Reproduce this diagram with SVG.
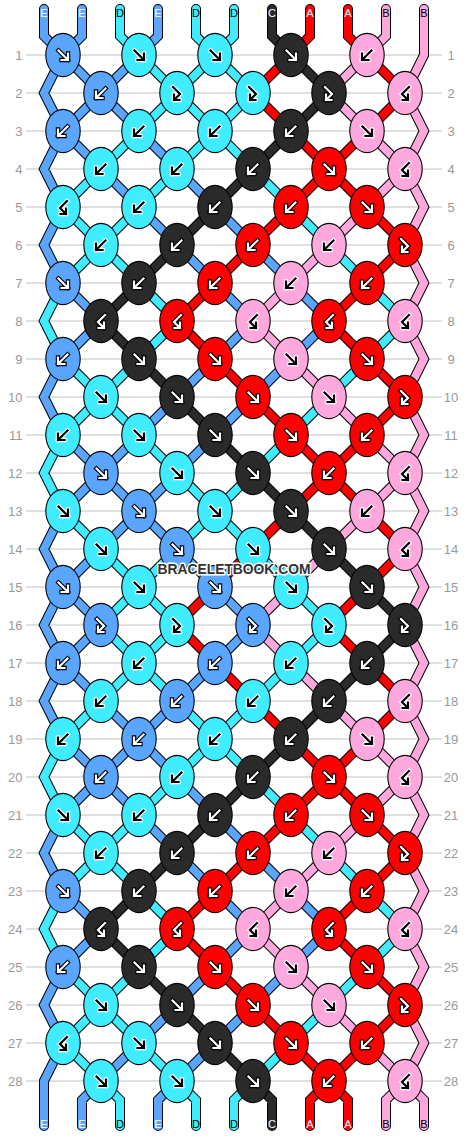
<svg xmlns="http://www.w3.org/2000/svg" width="468" height="1136" viewBox="0 0 468 1136">
<style>
.rl{font-family:"Liberation Sans",Arial,sans-serif;font-size:13px;fill:#999}
.sl{font-family:"Liberation Sans",Arial,sans-serif;font-size:11px;text-anchor:middle}
.w{fill:#fff}.k{fill:#000}
</style>
<defs>
<ellipse id="kE" rx="17.2" ry="21.6" fill="#5aa6ff" stroke="#000" stroke-width="1.1"/>
<ellipse id="kD" rx="17.2" ry="21.6" fill="#40ecff" stroke="#000" stroke-width="1.1"/>
<ellipse id="kC" rx="17.2" ry="21.6" fill="#2a2a2a" stroke="#000" stroke-width="1.1"/>
<ellipse id="kA" rx="17.2" ry="21.6" fill="#ff0000" stroke="#000" stroke-width="1.1"/>
<ellipse id="kB" rx="17.2" ry="21.6" fill="#ffa8de" stroke="#000" stroke-width="1.1"/>
<path id="aF" fill="none" d="M-4.5 -4.5L5 5M5 -1.5V5H-1.5"/>
<path id="aB" fill="none" d="M4.5 -4.5L-5 5M-5 -1.5V5H1.5"/>
<path id="aFB" fill="none" d="M-4 -6L3 1L-3 7M-3 1.5V7H2.5"/>
<path id="aBF" fill="none" d="M4 -6L-3 1L3 7M3 1.5V7H-2.5"/>
<g id="Fd" stroke-linecap="square"><use href="#aF" stroke="#000" stroke-width="4.4"/><use href="#aF" stroke="#fff" stroke-width="2.2"/></g>
<g id="Fl" stroke-linecap="square"><use href="#aF" stroke="#fff" stroke-width="4.4"/><use href="#aF" stroke="#000" stroke-width="2.2"/></g>
<g id="Bd" stroke-linecap="square"><use href="#aB" stroke="#000" stroke-width="4.4"/><use href="#aB" stroke="#fff" stroke-width="2.2"/></g>
<g id="Bl" stroke-linecap="square"><use href="#aB" stroke="#fff" stroke-width="4.4"/><use href="#aB" stroke="#000" stroke-width="2.2"/></g>
<g id="FBd" stroke-linecap="square"><use href="#aFB" stroke="#000" stroke-width="4.4"/><use href="#aFB" stroke="#fff" stroke-width="2.2"/></g>
<g id="FBl" stroke-linecap="square"><use href="#aFB" stroke="#fff" stroke-width="4.4"/><use href="#aFB" stroke="#000" stroke-width="2.2"/></g>
<g id="BFd" stroke-linecap="square"><use href="#aBF" stroke="#000" stroke-width="4.4"/><use href="#aBF" stroke="#fff" stroke-width="2.2"/></g>
<g id="BFl" stroke-linecap="square"><use href="#aBF" stroke="#fff" stroke-width="4.4"/><use href="#aBF" stroke="#000" stroke-width="2.2"/></g>
<path id="sE" d="M44 9V36l19 19M82 9V36l-19 19M158 9V36l-19 19
M63 55L44 93L63 131M63 131L44 169L63 207M63 207L44 245L63 283M63 359L44 397L63 435M63 511L44 549L63 587M63 587L44 625L63 663M63 663L44 701L63 739M63 815L44 853L63 891M63 967L44 1005L63 1043M63 1043L44 1081V1126
M63 55l38 38M139 55l-38 38
M101 93l-38 38M101 93l38 38
M63 131l38 38M139 131l38 38
M101 169l38 38M177 169l38 38
M139 207l38 38M215 207l38 38
M177 245l38 38M253 245l38 38
M63 283l38 38M215 283l38 38M291 283l38 38
M101 321l-38 38M253 321l-38 38M329 321l-38 38
M215 359l-38 38M291 359l-38 38
M177 397l-38 38M253 397l-38 38
M63 435l38 38M139 435l-38 38M215 435l-38 38
M101 473l-38 38M101 473l38 38M177 473l-38 38
M139 511l-38 38M139 511l38 38
M101 549l-38 38M177 549l38 38
M63 587l38 38M215 587l38 38
M101 625l-38 38M253 625l-38 38
M63 663l38 38M215 663l-38 38
M101 701l38 38M177 701l-38 38
M63 739l38 38M139 739l-38 38M139 739l38 38
M101 777l-38 38M101 777l38 38M177 777l38 38
M139 815l38 38M215 815l38 38
M177 853l38 38M253 853l38 38
M63 891l38 38M215 891l38 38M291 891l38 38
M101 929l-38 38M253 929l-38 38M329 929l-38 38
M215 967l-38 38M291 967l-38 38
M177 1005l-38 38M253 1005l-38 38
M139 1043l-38 38M215 1043l-38 38
M101 1081l-19 19V1126M177 1081l-19 19V1126"/>
<path id="sD" d="M120 9V36l19 19M196 9V36l19 19M234 9V36l-19 19
M63 283L44 321L63 359M63 435L44 473L63 511M63 739L44 777L63 815M63 891L44 929L63 967
M139 55l38 38M215 55l-38 38M215 55l38 38
M177 93l-38 38M177 93l38 38M253 93l-38 38
M139 131l-38 38M215 131l-38 38M215 131l38 38
M101 169l-38 38M177 169l-38 38M253 169l38 38
M63 207l38 38M139 207l-38 38M291 207l38 38
M101 245l-38 38M101 245l38 38M329 245l38 38
M139 283l38 38M367 283l38 38
M177 321l-38 38M405 321l-38 38
M63 359l38 38M139 359l-38 38M367 359l-38 38
M101 397l-38 38M101 397l38 38M329 397l-38 38
M139 435l38 38M291 435l-38 38
M177 473l38 38M253 473l-38 38
M63 511l38 38M215 511l-38 38M215 511l38 38
M101 549l38 38M177 549l-38 38M253 549l38 38
M139 587l-38 38M139 587l38 38M291 587l38 38
M101 625l38 38M177 625l-38 38M329 625l-38 38
M139 663l-38 38M139 663l38 38M291 663l-38 38
M101 701l-38 38M177 701l38 38M253 701l-38 38
M215 739l-38 38M215 739l38 38
M177 777l-38 38M253 777l38 38
M63 815l38 38M139 815l-38 38M291 815l38 38
M101 853l-38 38M101 853l38 38M329 853l38 38
M139 891l38 38M367 891l38 38
M177 929l-38 38M405 929l-38 38
M63 967l38 38M139 967l-38 38M367 967l-38 38
M101 1005l-38 38M101 1005l38 38M329 1005l-38 38
M63 1043l38 38M139 1043l38 38M291 1043l-38 38
M101 1081l19 19V1126M177 1081l19 19V1126M253 1081l-19 19V1126"/>
<path id="sC" d="M272 9V36l19 19
M291 55l38 38M329 93l-38 38M291 131l-38 38M253 169l-38 38M215 207l-38 38M177 245l-38 38M139 283l-38 38
M101 321l38 38M139 359l38 38M177 397l38 38M215 435l38 38M253 473l38 38M291 511l38 38M329 549l38 38M367 587l38 38
M405 625l-38 38M367 663l-38 38M329 701l-38 38M291 739l-38 38M253 777l-38 38M215 815l-38 38M177 853l-38 38M139 891l-38 38
M101 929l38 38M139 967l38 38M177 1005l38 38M215 1043l38 38
M253 1081l19 19V1126"/>
<path id="sA" d="M310 9V36l-19 19M348 9V36l19 19
M291 55l-38 38M367 55l38 38
M253 93l38 38M405 93l-38 38
M291 131l38 38M367 131l-38 38
M329 169l-38 38M329 169l38 38
M291 207l-38 38M367 207l38 38
M253 245l-38 38M405 245l-38 38
M215 283l-38 38M367 283l-38 38
M177 321l38 38M329 321l38 38
M215 359l38 38M367 359l38 38
M253 397l38 38M405 397l-38 38
M291 435l38 38M367 435l-38 38
M329 473l-38 38M329 473l38 38
M291 511l-38 38M367 511l38 38
M253 549l-38 38M405 549l-38 38
M215 587l-38 38M367 587l-38 38
M177 625l38 38M329 625l38 38
M215 663l38 38M367 663l38 38
M253 701l38 38M405 701l-38 38
M291 739l38 38M367 739l-38 38
M329 777l-38 38M329 777l38 38
M291 815l-38 38M367 815l38 38
M253 853l-38 38M405 853l-38 38
M215 891l-38 38M367 891l-38 38
M177 929l38 38M329 929l38 38
M215 967l38 38M367 967l38 38
M253 1005l38 38M405 1005l-38 38
M291 1043l38 38M367 1043l-38 38
M329 1081l-19 19V1126M329 1081l19 19V1126"/>
<path id="sB" d="M386 9V36l-19 19
M424 9V55L405 93L424 131L405 169L424 207L405 245L424 283L405 321L424 359L405 397L424 435L405 473L424 511L405 549L424 587L405 625L424 663L405 701L424 739L405 777L424 815L405 853L424 891L405 929L424 967L405 1005L424 1043L405 1081L424 1100V1126
M367 55l-38 38M329 93l38 38M367 131l38 38M405 169l-38 38M367 207l-38 38M329 245l-38 38M291 283l-38 38
M253 321l38 38M291 359l38 38M329 397l38 38M367 435l38 38M405 473l-38 38M367 511l-38 38M329 549l-38 38M291 587l-38 38
M253 625l38 38M291 663l38 38M329 701l38 38M367 739l38 38M405 777l-38 38M367 815l-38 38M329 853l-38 38M291 891l-38 38
M253 929l38 38M291 967l38 38M329 1005l38 38M367 1043l38 38
M405 1081l-19 19V1126"/>
</defs>
<rect width="468" height="1136" fill="#fff"/>
<g id="rows">
<path stroke="#c0c0c0" stroke-width="1" fill="none" d="M26 55H442M26 93H442M26 131H442M26 169H442M26 207H442M26 245H442M26 283H442M26 321H442M26 359H442M26 397H442M26 435H442M26 473H442M26 511H442M26 549H442M26 587H442M26 625H442M26 663H442M26 701H442M26 739H442M26 777H442M26 815H442M26 853H442M26 891H442M26 929H442M26 967H442M26 1005H442M26 1043H442M26 1081H442"/>
<g class="rl" text-anchor="end">
<text x="22.4" y="59.5">1</text><text x="22.4" y="97.5">2</text><text x="22.4" y="135.5">3</text><text x="22.4" y="173.5">4</text><text x="22.4" y="211.5">5</text><text x="22.4" y="249.5">6</text><text x="22.4" y="287.5">7</text><text x="22.4" y="325.5">8</text><text x="22.4" y="363.5">9</text><text x="22.4" y="401.5">10</text><text x="22.4" y="439.5">11</text><text x="22.4" y="477.5">12</text><text x="22.4" y="515.5">13</text><text x="22.4" y="553.5">14</text><text x="22.4" y="591.5">15</text><text x="22.4" y="629.5">16</text><text x="22.4" y="667.5">17</text><text x="22.4" y="705.5">18</text><text x="22.4" y="743.5">19</text><text x="22.4" y="781.5">20</text><text x="22.4" y="819.5">21</text><text x="22.4" y="857.5">22</text><text x="22.4" y="895.5">23</text><text x="22.4" y="933.5">24</text><text x="22.4" y="971.5">25</text><text x="22.4" y="1009.5">26</text><text x="22.4" y="1047.5">27</text><text x="22.4" y="1085.5">28</text>
</g>
<g class="rl" text-anchor="middle">
<text x="451" y="59.5">1</text><text x="451" y="97.5">2</text><text x="451" y="135.5">3</text><text x="451" y="173.5">4</text><text x="451" y="211.5">5</text><text x="451" y="249.5">6</text><text x="451" y="287.5">7</text><text x="451" y="325.5">8</text><text x="451" y="363.5">9</text><text x="451" y="401.5">10</text><text x="451" y="439.5">11</text><text x="451" y="477.5">12</text><text x="451" y="515.5">13</text><text x="451" y="553.5">14</text><text x="451" y="591.5">15</text><text x="451" y="629.5">16</text><text x="451" y="667.5">17</text><text x="451" y="705.5">18</text><text x="451" y="743.5">19</text><text x="451" y="781.5">20</text><text x="451" y="819.5">21</text><text x="451" y="857.5">22</text><text x="451" y="895.5">23</text><text x="451" y="933.5">24</text><text x="451" y="971.5">25</text><text x="451" y="1009.5">26</text><text x="451" y="1047.5">27</text><text x="451" y="1085.5">28</text>
</g>
</g>
<g id="connectors" fill="none" stroke-linejoin="miter" stroke-linecap="round">
<g stroke="#000" stroke-width="10"><use href="#sE"/><use href="#sD"/><use href="#sC"/><use href="#sA"/><use href="#sB"/></g>
<use href="#sE" stroke="#5aa6ff" stroke-width="8"/>
<use href="#sD" stroke="#40ecff" stroke-width="8"/>
<use href="#sC" stroke="#2a2a2a" stroke-width="8"/>
<use href="#sA" stroke="#ff0000" stroke-width="8"/>
<use href="#sB" stroke="#ffa8de" stroke-width="8"/>
</g>
<g id="string-labels" class="sl">
<text x="44" y="16.7" class="w">E</text><text x="82" y="16.7" class="w">E</text><text x="120" y="16.7" class="k">D</text><text x="158" y="16.7" class="w">E</text><text x="196" y="16.7" class="k">D</text><text x="234" y="16.7" class="k">D</text><text x="272" y="16.7" class="w">C</text><text x="310" y="16.7" class="w">A</text><text x="348" y="16.7" class="w">A</text><text x="386" y="16.7" class="k">B</text><text x="424" y="16.7" class="k">B</text>
<text x="44" y="1128" class="w">E</text><text x="82" y="1128" class="w">E</text><text x="120" y="1128" class="k">D</text><text x="158" y="1128" class="w">E</text><text x="196" y="1128" class="k">D</text><text x="234" y="1128" class="k">D</text><text x="272" y="1128" class="w">C</text><text x="310" y="1128" class="w">A</text><text x="348" y="1128" class="w">A</text><text x="386" y="1128" class="k">B</text><text x="424" y="1128" class="k">B</text>
</g>
<g id="knots">
<g id="k1-1" transform="translate(63 55)"><use href="#kE"/><use href="#Fd"/></g>
<g id="k1-2" transform="translate(139 55)"><use href="#kD"/><use href="#Fl"/></g>
<g id="k1-3" transform="translate(215 55)"><use href="#kD"/><use href="#Fl"/></g>
<g id="k1-4" transform="translate(291 55)"><use href="#kC"/><use href="#Fd"/></g>
<g id="k1-5" transform="translate(367 55)"><use href="#kB"/><use href="#Bl"/></g>
<g id="k2-1" transform="translate(101 93)"><use href="#kE"/><use href="#Bd"/></g>
<g id="k2-2" transform="translate(177 93)"><use href="#kD"/><use href="#FBl"/></g>
<g id="k2-3" transform="translate(253 93)"><use href="#kD"/><use href="#FBl"/></g>
<g id="k2-4" transform="translate(329 93)"><use href="#kC"/><use href="#FBd"/></g>
<g id="k2-5" transform="translate(405 93)"><use href="#kB"/><use href="#BFl"/></g>
<g id="k3-1" transform="translate(63 131)"><use href="#kE"/><use href="#Bd"/></g>
<g id="k3-2" transform="translate(139 131)"><use href="#kD"/><use href="#Bl"/></g>
<g id="k3-3" transform="translate(215 131)"><use href="#kD"/><use href="#Bl"/></g>
<g id="k3-4" transform="translate(291 131)"><use href="#kC"/><use href="#Bd"/></g>
<g id="k3-5" transform="translate(367 131)"><use href="#kB"/><use href="#Fl"/></g>
<g id="k4-1" transform="translate(101 169)"><use href="#kD"/><use href="#Bl"/></g>
<g id="k4-2" transform="translate(177 169)"><use href="#kD"/><use href="#Bl"/></g>
<g id="k4-3" transform="translate(253 169)"><use href="#kC"/><use href="#Bd"/></g>
<g id="k4-4" transform="translate(329 169)"><use href="#kA"/><use href="#Fd"/></g>
<g id="k4-5" transform="translate(405 169)"><use href="#kB"/><use href="#BFl"/></g>
<g id="k5-1" transform="translate(63 207)"><use href="#kD"/><use href="#BFl"/></g>
<g id="k5-2" transform="translate(139 207)"><use href="#kD"/><use href="#Bl"/></g>
<g id="k5-3" transform="translate(215 207)"><use href="#kC"/><use href="#Bd"/></g>
<g id="k5-4" transform="translate(291 207)"><use href="#kA"/><use href="#Bd"/></g>
<g id="k5-5" transform="translate(367 207)"><use href="#kA"/><use href="#Fd"/></g>
<g id="k6-1" transform="translate(101 245)"><use href="#kD"/><use href="#Bl"/></g>
<g id="k6-2" transform="translate(177 245)"><use href="#kC"/><use href="#Bd"/></g>
<g id="k6-3" transform="translate(253 245)"><use href="#kA"/><use href="#Bd"/></g>
<g id="k6-4" transform="translate(329 245)"><use href="#kB"/><use href="#Bl"/></g>
<g id="k6-5" transform="translate(405 245)"><use href="#kA"/><use href="#FBd"/></g>
<g id="k7-1" transform="translate(63 283)"><use href="#kE"/><use href="#Fd"/></g>
<g id="k7-2" transform="translate(139 283)"><use href="#kC"/><use href="#Bd"/></g>
<g id="k7-3" transform="translate(215 283)"><use href="#kA"/><use href="#Bd"/></g>
<g id="k7-4" transform="translate(291 283)"><use href="#kB"/><use href="#Bl"/></g>
<g id="k7-5" transform="translate(367 283)"><use href="#kA"/><use href="#Bd"/></g>
<g id="k8-1" transform="translate(101 321)"><use href="#kC"/><use href="#BFd"/></g>
<g id="k8-2" transform="translate(177 321)"><use href="#kA"/><use href="#BFd"/></g>
<g id="k8-3" transform="translate(253 321)"><use href="#kB"/><use href="#BFl"/></g>
<g id="k8-4" transform="translate(329 321)"><use href="#kA"/><use href="#BFd"/></g>
<g id="k8-5" transform="translate(405 321)"><use href="#kB"/><use href="#BFl"/></g>
<g id="k9-1" transform="translate(63 359)"><use href="#kE"/><use href="#Bd"/></g>
<g id="k9-2" transform="translate(139 359)"><use href="#kC"/><use href="#Fd"/></g>
<g id="k9-3" transform="translate(215 359)"><use href="#kA"/><use href="#Fd"/></g>
<g id="k9-4" transform="translate(291 359)"><use href="#kB"/><use href="#Fl"/></g>
<g id="k9-5" transform="translate(367 359)"><use href="#kA"/><use href="#Fd"/></g>
<g id="k10-1" transform="translate(101 397)"><use href="#kD"/><use href="#Fl"/></g>
<g id="k10-2" transform="translate(177 397)"><use href="#kC"/><use href="#Fd"/></g>
<g id="k10-3" transform="translate(253 397)"><use href="#kA"/><use href="#Fd"/></g>
<g id="k10-4" transform="translate(329 397)"><use href="#kB"/><use href="#Fl"/></g>
<g id="k10-5" transform="translate(405 397)"><use href="#kA"/><use href="#FBd"/></g>
<g id="k11-1" transform="translate(63 435)"><use href="#kD"/><use href="#Bl"/></g>
<g id="k11-2" transform="translate(139 435)"><use href="#kD"/><use href="#Fl"/></g>
<g id="k11-3" transform="translate(215 435)"><use href="#kC"/><use href="#Fd"/></g>
<g id="k11-4" transform="translate(291 435)"><use href="#kA"/><use href="#Fd"/></g>
<g id="k11-5" transform="translate(367 435)"><use href="#kA"/><use href="#Bd"/></g>
<g id="k12-1" transform="translate(101 473)"><use href="#kE"/><use href="#Fd"/></g>
<g id="k12-2" transform="translate(177 473)"><use href="#kD"/><use href="#Fl"/></g>
<g id="k12-3" transform="translate(253 473)"><use href="#kC"/><use href="#Fd"/></g>
<g id="k12-4" transform="translate(329 473)"><use href="#kA"/><use href="#Bd"/></g>
<g id="k12-5" transform="translate(405 473)"><use href="#kB"/><use href="#BFl"/></g>
<g id="k13-1" transform="translate(63 511)"><use href="#kD"/><use href="#Fl"/></g>
<g id="k13-2" transform="translate(139 511)"><use href="#kE"/><use href="#Fd"/></g>
<g id="k13-3" transform="translate(215 511)"><use href="#kD"/><use href="#Fl"/></g>
<g id="k13-4" transform="translate(291 511)"><use href="#kC"/><use href="#Fd"/></g>
<g id="k13-5" transform="translate(367 511)"><use href="#kB"/><use href="#Bl"/></g>
<g id="k14-1" transform="translate(101 549)"><use href="#kD"/><use href="#Fl"/></g>
<g id="k14-2" transform="translate(177 549)"><use href="#kE"/><use href="#Fd"/></g>
<g id="k14-3" transform="translate(253 549)"><use href="#kD"/><use href="#Fl"/></g>
<g id="k14-4" transform="translate(329 549)"><use href="#kC"/><use href="#Fd"/></g>
<g id="k14-5" transform="translate(405 549)"><use href="#kB"/><use href="#BFl"/></g>
<g id="k15-1" transform="translate(63 587)"><use href="#kE"/><use href="#Fd"/></g>
<g id="k15-2" transform="translate(139 587)"><use href="#kD"/><use href="#Fl"/></g>
<g id="k15-3" transform="translate(215 587)"><use href="#kE"/><use href="#Fd"/></g>
<g id="k15-4" transform="translate(291 587)"><use href="#kD"/><use href="#Fl"/></g>
<g id="k15-5" transform="translate(367 587)"><use href="#kC"/><use href="#Fd"/></g>
<g id="k16-1" transform="translate(101 625)"><use href="#kE"/><use href="#FBd"/></g>
<g id="k16-2" transform="translate(177 625)"><use href="#kD"/><use href="#FBl"/></g>
<g id="k16-3" transform="translate(253 625)"><use href="#kE"/><use href="#FBd"/></g>
<g id="k16-4" transform="translate(329 625)"><use href="#kD"/><use href="#FBl"/></g>
<g id="k16-5" transform="translate(405 625)"><use href="#kC"/><use href="#FBd"/></g>
<g id="k17-1" transform="translate(63 663)"><use href="#kE"/><use href="#Bd"/></g>
<g id="k17-2" transform="translate(139 663)"><use href="#kD"/><use href="#Bl"/></g>
<g id="k17-3" transform="translate(215 663)"><use href="#kE"/><use href="#Bd"/></g>
<g id="k17-4" transform="translate(291 663)"><use href="#kD"/><use href="#Bl"/></g>
<g id="k17-5" transform="translate(367 663)"><use href="#kC"/><use href="#Bd"/></g>
<g id="k18-1" transform="translate(101 701)"><use href="#kD"/><use href="#Bl"/></g>
<g id="k18-2" transform="translate(177 701)"><use href="#kE"/><use href="#Bd"/></g>
<g id="k18-3" transform="translate(253 701)"><use href="#kD"/><use href="#Bl"/></g>
<g id="k18-4" transform="translate(329 701)"><use href="#kC"/><use href="#Bd"/></g>
<g id="k18-5" transform="translate(405 701)"><use href="#kB"/><use href="#BFl"/></g>
<g id="k19-1" transform="translate(63 739)"><use href="#kD"/><use href="#Bl"/></g>
<g id="k19-2" transform="translate(139 739)"><use href="#kE"/><use href="#Bd"/></g>
<g id="k19-3" transform="translate(215 739)"><use href="#kD"/><use href="#Bl"/></g>
<g id="k19-4" transform="translate(291 739)"><use href="#kC"/><use href="#Bd"/></g>
<g id="k19-5" transform="translate(367 739)"><use href="#kB"/><use href="#Fl"/></g>
<g id="k20-1" transform="translate(101 777)"><use href="#kE"/><use href="#Bd"/></g>
<g id="k20-2" transform="translate(177 777)"><use href="#kD"/><use href="#Bl"/></g>
<g id="k20-3" transform="translate(253 777)"><use href="#kC"/><use href="#Bd"/></g>
<g id="k20-4" transform="translate(329 777)"><use href="#kA"/><use href="#Fd"/></g>
<g id="k20-5" transform="translate(405 777)"><use href="#kB"/><use href="#BFl"/></g>
<g id="k21-1" transform="translate(63 815)"><use href="#kD"/><use href="#Fl"/></g>
<g id="k21-2" transform="translate(139 815)"><use href="#kD"/><use href="#Bl"/></g>
<g id="k21-3" transform="translate(215 815)"><use href="#kC"/><use href="#Bd"/></g>
<g id="k21-4" transform="translate(291 815)"><use href="#kA"/><use href="#Bd"/></g>
<g id="k21-5" transform="translate(367 815)"><use href="#kA"/><use href="#Fd"/></g>
<g id="k22-1" transform="translate(101 853)"><use href="#kD"/><use href="#Bl"/></g>
<g id="k22-2" transform="translate(177 853)"><use href="#kC"/><use href="#Bd"/></g>
<g id="k22-3" transform="translate(253 853)"><use href="#kA"/><use href="#Bd"/></g>
<g id="k22-4" transform="translate(329 853)"><use href="#kB"/><use href="#Bl"/></g>
<g id="k22-5" transform="translate(405 853)"><use href="#kA"/><use href="#FBd"/></g>
<g id="k23-1" transform="translate(63 891)"><use href="#kE"/><use href="#Fd"/></g>
<g id="k23-2" transform="translate(139 891)"><use href="#kC"/><use href="#Bd"/></g>
<g id="k23-3" transform="translate(215 891)"><use href="#kA"/><use href="#Bd"/></g>
<g id="k23-4" transform="translate(291 891)"><use href="#kB"/><use href="#Bl"/></g>
<g id="k23-5" transform="translate(367 891)"><use href="#kA"/><use href="#Bd"/></g>
<g id="k24-1" transform="translate(101 929)"><use href="#kC"/><use href="#BFd"/></g>
<g id="k24-2" transform="translate(177 929)"><use href="#kA"/><use href="#BFd"/></g>
<g id="k24-3" transform="translate(253 929)"><use href="#kB"/><use href="#BFl"/></g>
<g id="k24-4" transform="translate(329 929)"><use href="#kA"/><use href="#BFd"/></g>
<g id="k24-5" transform="translate(405 929)"><use href="#kB"/><use href="#BFl"/></g>
<g id="k25-1" transform="translate(63 967)"><use href="#kE"/><use href="#Bd"/></g>
<g id="k25-2" transform="translate(139 967)"><use href="#kC"/><use href="#Fd"/></g>
<g id="k25-3" transform="translate(215 967)"><use href="#kA"/><use href="#Fd"/></g>
<g id="k25-4" transform="translate(291 967)"><use href="#kB"/><use href="#Fl"/></g>
<g id="k25-5" transform="translate(367 967)"><use href="#kA"/><use href="#Fd"/></g>
<g id="k26-1" transform="translate(101 1005)"><use href="#kD"/><use href="#Fl"/></g>
<g id="k26-2" transform="translate(177 1005)"><use href="#kC"/><use href="#Fd"/></g>
<g id="k26-3" transform="translate(253 1005)"><use href="#kA"/><use href="#Fd"/></g>
<g id="k26-4" transform="translate(329 1005)"><use href="#kB"/><use href="#Fl"/></g>
<g id="k26-5" transform="translate(405 1005)"><use href="#kA"/><use href="#FBd"/></g>
<g id="k27-1" transform="translate(63 1043)"><use href="#kD"/><use href="#BFl"/></g>
<g id="k27-2" transform="translate(139 1043)"><use href="#kD"/><use href="#Fl"/></g>
<g id="k27-3" transform="translate(215 1043)"><use href="#kC"/><use href="#Fd"/></g>
<g id="k27-4" transform="translate(291 1043)"><use href="#kA"/><use href="#Fd"/></g>
<g id="k27-5" transform="translate(367 1043)"><use href="#kA"/><use href="#Bd"/></g>
<g id="k28-1" transform="translate(101 1081)"><use href="#kD"/><use href="#Fl"/></g>
<g id="k28-2" transform="translate(177 1081)"><use href="#kD"/><use href="#Fl"/></g>
<g id="k28-3" transform="translate(253 1081)"><use href="#kC"/><use href="#Fd"/></g>
<g id="k28-4" transform="translate(329 1081)"><use href="#kA"/><use href="#Bd"/></g>
<g id="k28-5" transform="translate(405 1081)"><use href="#kB"/><use href="#BFl"/></g>
</g>
<text id="watermark" x="234" y="574" font-family="'Liberation Sans',Arial,sans-serif" font-weight="bold" font-size="15" fill="#333" stroke="#fff" stroke-width="3" stroke-linejoin="round" paint-order="stroke" text-anchor="middle" textLength="153" lengthAdjust="spacingAndGlyphs">BRACELETBOOK.COM</text>
</svg>
